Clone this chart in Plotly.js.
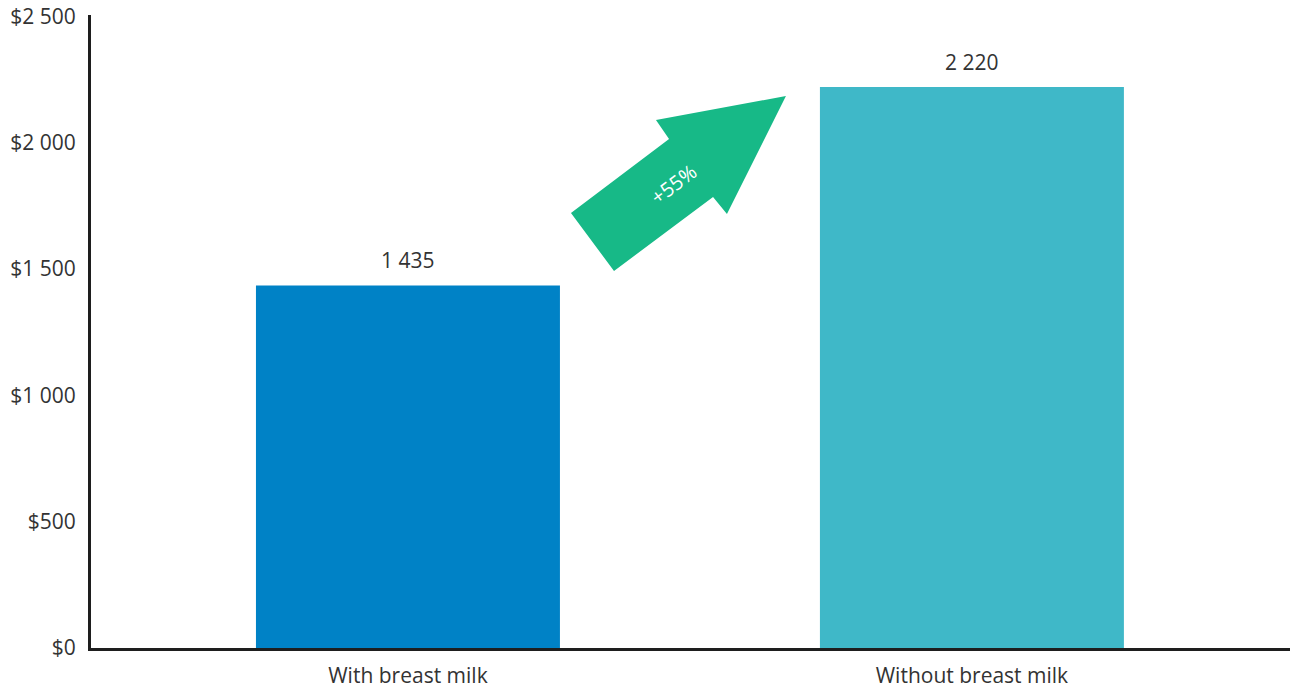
<!DOCTYPE html>
<html><head><meta charset="utf-8">
<script src="https://cdn.plot.ly/plotly-3.0.1.min.js"></script>
<style>html,body{margin:0;padding:0;background:#fff}#c{width:1293px;height:688px}</style>
</head><body><div id="c"></div>
<script>
const categories = ["With breast milk", "Without breast milk"];
const values = [1435, 2220];
const valueLabels = ["1 435", "2 220"];
const barColors = ["#0082C6", "#3FB8C8"];
const changeLabel = "+55%";

const W = 1293, H = 688;
const M = {l: 91, r: 3, t: 15, b: 40};
const PW = W - M.l - M.r, PH = H - M.t - M.b;
const px = x => (x - M.l) / PW;
const py = y => (H - M.b - y) / PH;

const arrowPts = [[571,213],[614,271],[713,197],[727,214],[786,96],[656,120],[669,139]];
const arrowPath = 'M' + arrowPts.map(p => px(p[0]).toFixed(4) + ',' + py(p[1]).toFixed(4)).join(' L') + ' Z';

const font = {family: '"Open Sans", sans-serif', color: '#333333', size: 21};

Plotly.newPlot('c', [{
  type: 'bar',
  x: [0, 1],
  y: values,
  width: 0.539,
  marker: {color: barColors},
  hoverinfo: 'none'
}], {
  width: W, height: H,
  margin: M,
  paper_bgcolor: '#fff', plot_bgcolor: '#fff',
  separators: '. ',
  showlegend: false,
  font: font,
  xaxis: {
    range: [-0.562, 1.564],
    tickmode: 'array', tickvals: [0, 1], ticktext: categories,
    showgrid: false, zeroline: false,
    showline: true, linecolor: '#1e1e1e', linewidth: 3,
    ticks: '', ticklabelstandoff: 7,
    tickfont: font, fixedrange: true
  },
  yaxis: {
    range: [0, 2505], dtick: 500, tickprefix: '$', tickformat: ',d',
    showgrid: false, zeroline: false,
    showline: true, linecolor: '#1e1e1e', linewidth: 3,
    ticks: '', ticklabelstandoff: 8,
    tickfont: font, fixedrange: true
  },
  shapes: [{
    type: 'path', xref: 'paper', yref: 'paper', path: arrowPath,
    fillcolor: '#17B987', line: {width: 0}
  }],
  annotations: values.map((v, i) => ({
    x: i, y: v, xref: 'x', yref: 'y', text: valueLabels[i],
    showarrow: false, yanchor: 'bottom', yshift: 9, font: font
  })).concat([{
    xref: 'paper', yref: 'paper', x: px(673), y: py(184),
    xanchor: 'center', yanchor: 'middle',
    text: changeLabel, showarrow: false, textangle: -37,
    font: {family: '"Open Sans", sans-serif', color: '#ffffff', size: 20}
  }])
}, {displayModeBar: false, staticPlot: true});
</script>
</body></html>
